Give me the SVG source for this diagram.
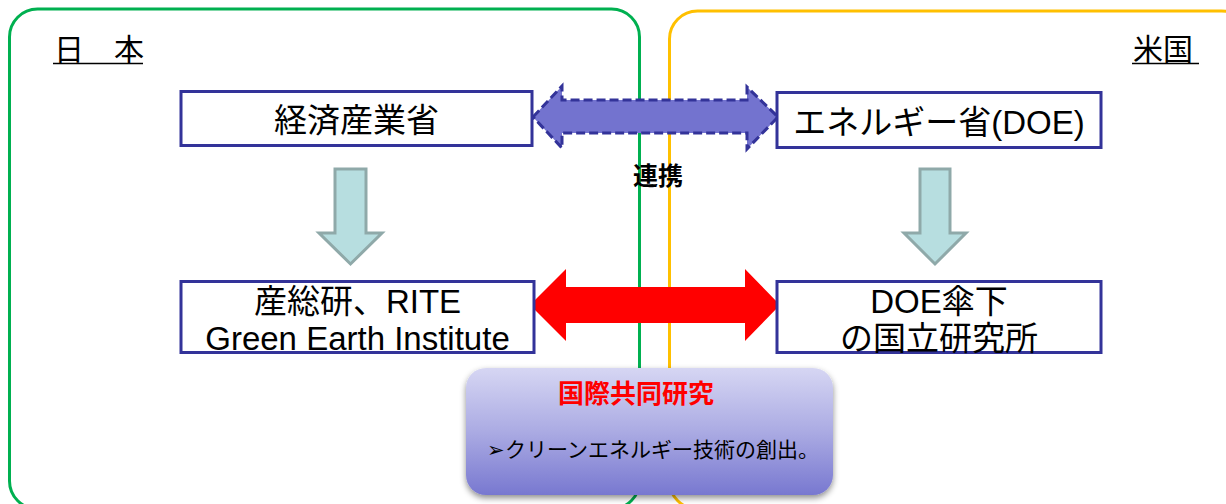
<svg xmlns="http://www.w3.org/2000/svg" width="1226" height="504" viewBox="0 0 1226 504">
<defs>
<linearGradient id="g" x1="0" y1="0" x2="0" y2="1">
<stop offset="0" stop-color="#D6D6F3"/>
<stop offset="0.5" stop-color="#ABABE3"/>
<stop offset="1" stop-color="#7878D0"/>
</linearGradient>
<filter id="sh" x="-10%" y="-10%" width="120%" height="130%">
<feGaussianBlur in="SourceAlpha" stdDeviation="3"/>
<feOffset dx="0" dy="3" result="b"/>
<feFlood flood-color="#000" flood-opacity="0.45"/>
<feComposite in2="b" operator="in"/>
<feMerge><feMergeNode/><feMergeNode in="SourceGraphic"/></feMerge>
</filter>
</defs>
<style>
.jp{font-family:"Liberation Sans","Noto Sans CJK JP",sans-serif;fill:#000}
.box{fill:#fff;stroke:#333399;stroke-width:3}
.down{fill:#B7DEE0;stroke:#8FA9A9;stroke-width:3;stroke-linejoin:miter}
</style>
<g id="region-japan">
<rect x="9.5" y="9" width="630" height="500" rx="28" fill="none" stroke="#00B050" stroke-width="3"/>
<text class="jp" x="54" y="60" font-size="30">日　本</text>
<line x1="53" y1="63.5" x2="143" y2="63.5" stroke="#000" stroke-width="1.5"/>
</g>
<g id="region-usa">
<rect x="669.5" y="11" width="580" height="498" rx="28" fill="none" stroke="#FFC000" stroke-width="3"/>
<text class="jp" x="1133" y="60" font-size="30">米国</text>
<line x1="1132" y1="63.5" x2="1199" y2="63.5" stroke="#000" stroke-width="1.5"/>
</g>
<g id="connectors">
<path d="M533,117 L562,86 L562,100 L747,100 L747,87 L778,117 L747,149 L747,133 L562,133 L562,148 Z" fill="#7373CF" stroke="#333399" stroke-width="3" stroke-dasharray="9,4"/>
<text class="jp" x="658" y="185" font-size="25" font-weight="bold" text-anchor="middle">連携</text>
<path class="down" d="M335,169 L366,169 L366,233 L382,233 L350.5,264 L319,233 L335,233 Z"/>
<path class="down" d="M920,169 L950,169 L950,233 L966,233 L935,264 L904,233 L920,233 Z"/>
<path d="M530,305 L566,269 L566,287 L745,287 L745,269 L780,305 L745,341 L745,323 L566,323 L566,341 Z" fill="#FF0000"/>
</g>
<g id="meti">
<rect class="box" x="181" y="91.5" width="351" height="54"/>
<text class="jp" x="356.5" y="132" font-size="33" text-anchor="middle">経済産業省</text>
</g>
<g id="doe">
<rect class="box" x="777" y="92.5" width="324" height="55"/>
<text class="jp" x="939" y="134" font-size="33" text-anchor="middle">エネルギー省(DOE)</text>
</g>
<g id="aist">
<rect class="box" x="181" y="281.5" width="353" height="71"/>
<text class="jp" x="357.5" y="313" font-size="33" text-anchor="middle">産総研、RITE</text>
<text class="jp" x="357.5" y="350" font-size="33" text-anchor="middle">Green Earth Institute</text>
</g>
<g id="doe-labs">
<rect class="box" x="777" y="281.5" width="324" height="71"/>
<text class="jp" x="939" y="313" font-size="33" text-anchor="middle">DOE傘下</text>
<text class="jp" x="939" y="350" font-size="33" text-anchor="middle">の国立研究所</text>
</g>
<g id="joint-research">
<rect x="466" y="368" width="367" height="127" rx="20" fill="url(#g)" filter="url(#sh)"/>
<text x="636" y="403" font-size="26" font-weight="bold" fill="#FF0000" text-anchor="middle" font-family="'Liberation Sans','Noto Sans CJK JP',sans-serif">国際共同研究</text>
<text class="jp" x="487" y="457" font-size="21">➢クリーンエネルギー技術の創出。</text>
</g>
</svg>
